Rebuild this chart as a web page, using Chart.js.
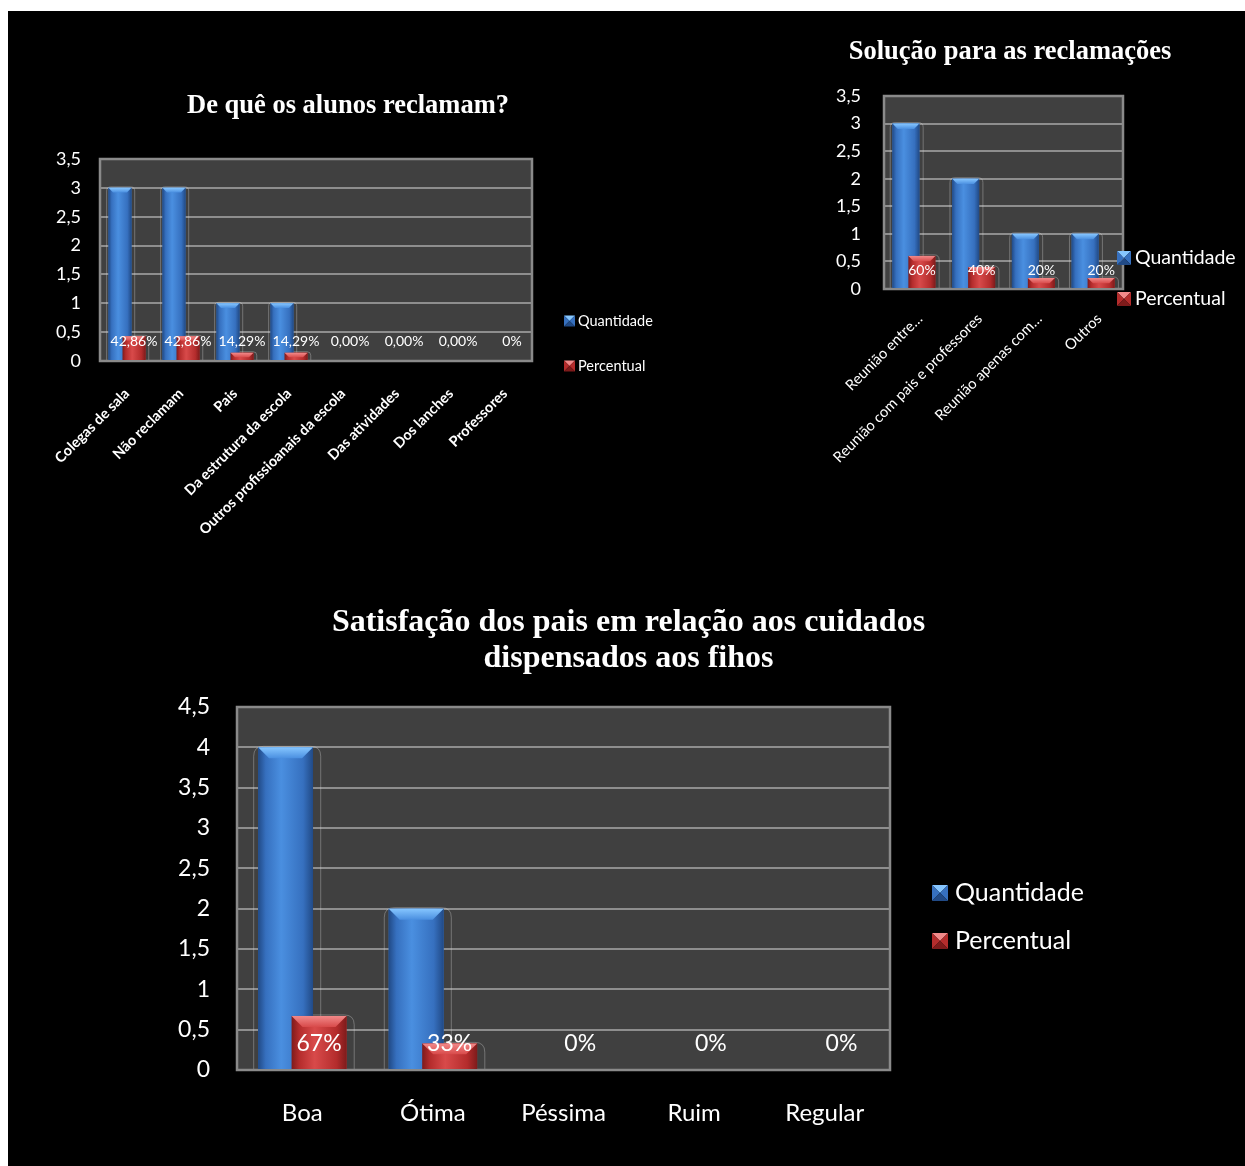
<!DOCTYPE html>
<html lang="pt-BR">
<head>
<meta charset="utf-8">
<title>Pesquisa com pais e alunos</title>
<script src="https://cdn.jsdelivr.net/npm/chart.js@4.4.1/dist/chart.umd.min.js"></script>
<style>
  html, body { margin: 0; padding: 0; background: #fff; }
  body { width: 1245px; height: 1166px; position: relative; overflow: hidden; }
  #fundo { position: absolute; left: 8px; top: 11px; width: 1237px; height: 1155px; background: #000; }
  canvas { position: absolute; }
  #graf-reclamam { left: 20px; top: 60px; }
  #graf-solucao { left: 775px; top: 20px; }
  #graf-satisfacao { left: 150px; top: 590px; }
</style>
</head>
<body>
<div id="fundo"></div>
<canvas id="graf-reclamam" width="656" height="500"></canvas>
<canvas id="graf-solucao" width="470" height="470"></canvas>
<canvas id="graf-satisfacao" width="957" height="576"></canvas>
<script>
// De quê os alunos reclamam?
const reclamamCategorias = ['Colegas de sala', 'Não reclamam', 'Pais', 'Da estrutura da escola',
  'Outros profissioanais da escola', 'Das atividades', 'Dos lanches', 'Professores'];
const reclamamQuantidade = [3, 3, 1, 1, 0, 0, 0, 0];
const reclamamPercentual = ['42,86%', '42,86%', '14,29%', '14,29%', '0,00%', '0,00%', '0,00%', '0%'];

// Solução para as reclamações
const solucaoCategorias = ['Reunião entre…', 'Reunião com pais e professores', 'Reunião apenas com…', 'Outros'];
const solucaoQuantidade = [3, 2, 1, 1];
const solucaoPercentual = ['60%', '40%', '20%', '20%'];

// Satisfação dos pais
const satisfacaoCategorias = ['Boa', 'Ótima', 'Péssima', 'Ruim', 'Regular'];
const satisfacaoQuantidade = [4, 2, 0, 0, 0];
const satisfacaoPercentual = ['67%', '33%', '0%', '0%', '0%'];

const FONTE = 'Lato, "Open Sans", sans-serif';
const FONTE_TITULO = '"Liberation Serif", "Times New Roman", serif';

const AZUL = { dark: '#214a86', mid: '#3670bf', light: '#4a8fe0', top: '#86c6ff', base: '#3a78c8' };
const VERMELHO = { dark: '#7e1b1b', mid: '#b42c2c', light: '#d84a4a', top: '#f28a8a', base: '#c23434' };
const CORES = [AZUL, VERMELHO];

function pct(s) {
  return parseFloat(s.replace('%', '').replace(',', '.')) / 100;
}
function virgula(v) {
  return String(v).replace('.', ',');
}

// plot background, frame and the faint 3D outlines behind each column
const areaPlot = {
  id: 'areaPlot',
  beforeDraw(chart) {
    const { ctx, chartArea: a } = chart;
    ctx.save();
    ctx.fillStyle = '#404040';
    ctx.fillRect(a.left, a.top, a.right - a.left, a.bottom - a.top);
    ctx.restore();
  },
  beforeDatasetsDraw(chart) {
    const { ctx, chartArea: a } = chart;
    ctx.save();
    ctx.strokeStyle = 'rgba(215,215,215,0.35)';
    ctx.lineWidth = 1;
    chart.data.datasets.forEach((ds, i) => {
      chart.getDatasetMeta(i).data.forEach(el => {
        const { x, y, base, width } = el.getProps(['x', 'y', 'base', 'width'], true);
        if (base - y < 0.5) return;
        const l = x - width / 2 - width * 0.08, r = x + width / 2 + width * 0.14;
        const rad = Math.min(width * 0.18, (base - y) / 2);
        ctx.beginPath();
        ctx.moveTo(l, base);
        ctx.lineTo(l, y - 1 + rad);
        ctx.quadraticCurveTo(l, y - 1, l + rad, y - 1);
        ctx.lineTo(r - rad, y - 1);
        ctx.quadraticCurveTo(r, y - 1, r, y - 1 + rad);
        ctx.lineTo(r, base);
        ctx.stroke();
      });
    });
    ctx.strokeStyle = '#8a8a8a';
    ctx.lineWidth = 2.5;
    ctx.strokeRect(a.left, a.top, a.right - a.left, a.bottom - a.top);
    ctx.restore();
  }
};

// shaded columns with a bevelled top
function pintaBarra(ctx, x, y, base, w, cor) {
  const l = x - w / 2, r = x + w / 2, h = base - y;
  const g = ctx.createLinearGradient(l, 0, r, 0);
  g.addColorStop(0, cor.dark);
  g.addColorStop(0.14, cor.mid);
  g.addColorStop(0.42, cor.light);
  g.addColorStop(0.82, cor.mid);
  g.addColorStop(1, cor.dark);
  ctx.fillStyle = g;
  ctx.fillRect(l, y, w, h);
  const b = Math.min(w * 0.2, h);
  const gt = ctx.createLinearGradient(0, y, 0, y + b);
  gt.addColorStop(0, cor.top);
  gt.addColorStop(1, cor.light);
  ctx.fillStyle = gt;
  ctx.beginPath();
  ctx.moveTo(l, y);
  ctx.lineTo(r, y);
  ctx.lineTo(r - b, y + b);
  ctx.lineTo(l + b, y + b);
  ctx.closePath();
  ctx.fill();
}

// repaint the columns series by series so Percentual sits in front of Quantidade
const barrasBisel = {
  id: 'barrasBisel',
  afterDatasetsDraw(chart) {
    const ctx = chart.ctx;
    ctx.save();
    chart.data.datasets.forEach((ds, i) => {
      chart.getDatasetMeta(i).data.forEach(el => {
        const { x, y, base, width } = el.getProps(['x', 'y', 'base', 'width'], true);
        if (base - y < 0.5) return;
        pintaBarra(ctx, x, y, base, width, CORES[i]);
      });
    });
    ctx.restore();
  }
};

// percentage labels sitting over the Percentual columns
const rotulosPct = {
  id: 'rotulosPct',
  afterDatasetsDraw(chart, args, opts) {
    const ctx = chart.ctx;
    const meta = chart.getDatasetMeta(1);
    const y0 = chart.scales.y.getPixelForValue(0) - opts.offset;
    ctx.save();
    ctx.fillStyle = '#fff';
    ctx.font = opts.size + 'px ' + FONTE;
    ctx.textAlign = 'center';
    ctx.textBaseline = 'middle';
    opts.textos.forEach((t, i) => ctx.fillText(t, meta.data[i].x, y0));
    ctx.restore();
  }
};

function marcador(ctx, x, y, s, cor) {
  const c = s / 2;
  const tri = (pts, fill) => {
    ctx.fillStyle = fill;
    ctx.beginPath();
    ctx.moveTo(pts[0], pts[1]);
    ctx.lineTo(pts[2], pts[3]);
    ctx.lineTo(pts[4], pts[5]);
    ctx.closePath();
    ctx.fill();
  };
  tri([x, y, x + s, y, x + c, y + c], cor.top);
  tri([x, y, x + c, y + c, x, y + s], cor.mid);
  tri([x + s, y, x + s, y + s, x + c, y + c], cor.mid);
  tri([x, y + s, x + s, y + s, x + c, y + c], cor.dark);
}

// legend drawn at a fixed spot beside the plot
const legendaLateral = {
  id: 'legendaLateral',
  afterDraw(chart, args, opts) {
    const ctx = chart.ctx;
    ctx.save();
    ctx.font = opts.size + 'px ' + FONTE;
    ctx.textBaseline = 'middle';
    chart.data.datasets.forEach((ds, i) => {
      const yc = opts.y + i * opts.gap;
      marcador(ctx, opts.x, yc - opts.box / 2, opts.box, CORES[i]);
      ctx.fillStyle = '#fff';
      ctx.fillText(ds.label, opts.x + opts.box + opts.space, yc);
    });
    ctx.restore();
  }
};

function criaGrafico(id, cfg) {
  const canvas = document.getElementById(id);
  return new Chart(canvas.getContext('2d'), {
    type: 'bar',
    data: {
      labels: cfg.categorias,
      datasets: [
        {
          label: 'Quantidade',
          data: cfg.quantidade,
          backgroundColor: AZUL.base,
          categoryPercentage: cfg.catPct,
          barPercentage: cfg.barPct
        },
        {
          label: 'Percentual',
          data: cfg.percentual.map(pct),
          backgroundColor: VERMELHO.base,
          categoryPercentage: cfg.catPct,
          barPercentage: cfg.barPct
        }
      ]
    },
    options: {
      responsive: false,
      animation: false,
      devicePixelRatio: 1,
      plugins: {
        legend: { display: false },
        tooltip: { enabled: false },
        title: {
          display: true,
          text: cfg.titulo,
          color: '#fff',
          font: { family: FONTE_TITULO, size: cfg.tituloTam, weight: 'bold', lineHeight: cfg.tituloLinha },
          padding: cfg.tituloPad
        },
        rotulosPct: { textos: cfg.percentual, size: cfg.rotuloTam, offset: cfg.rotuloOffset },
        legendaLateral: cfg.legenda
      },
      scales: {
        x: {
          grid: { display: false, drawTicks: false },
          border: { display: false },
          ticks: {
            color: '#fff',
            font: { family: FONTE, size: cfg.xTam, weight: cfg.xPeso },
            minRotation: cfg.rotacao,
            maxRotation: cfg.rotacao,
            autoSkip: false,
            padding: cfg.xPad,
            labelOffset: cfg.xDesloc
          },
          afterFit: s => { s.height = cfg.xAltura; }
        },
        y: {
          min: 0,
          max: cfg.yMax,
          grid: { color: '#8e8e8e', lineWidth: 2, drawTicks: false },
          border: { display: false },
          ticks: {
            stepSize: 0.5,
            color: '#fff',
            font: { family: FONTE, size: cfg.yTam },
            padding: cfg.yPad,
            callback: v => virgula(v)
          },
          afterFit: s => { s.width = cfg.yLargura; }
        },
        // empty axis on the right that reserves room for the legend
        lateral: {
          type: 'linear',
          position: 'right',
          grid: { display: false, drawTicks: false },
          border: { display: false },
          ticks: { display: false },
          afterFit: s => { s.width = cfg.padDireita; }
        }
      }
    },
    plugins: [areaPlot, barrasBisel, rotulosPct, legendaLateral]
  });
}

criaGrafico('graf-reclamam', {
  categorias: reclamamCategorias,
  quantidade: reclamamQuantidade,
  percentual: reclamamPercentual,
  titulo: 'De quê os alunos reclamam?',
  tituloTam: 26.5,
  tituloLinha: 1.2,
  tituloPad: { top: 30, bottom: 37.2 },
  catPct: 0.52,
  barPct: 1.64,
  padDireita: 144,
  yLargura: 80,
  yMax: 3.5,
  yTam: 18,
  yPad: 19,
  xAltura: 199,
  xTam: 14.5,
  xPeso: 'bold',
  rotacao: 45,
  xPad: 24,
  xDesloc: 0,
  rotuloTam: 14,
  rotuloOffset: 19.5,
  legenda: { x: 544, y: 261, gap: 45, box: 11, space: 3, size: 14.5 }
});

criaGrafico('graf-solucao', {
  categorias: solucaoCategorias,
  quantidade: solucaoQuantidade,
  percentual: solucaoPercentual,
  titulo: 'Solução para as reclamações',
  tituloTam: 26.5,
  tituloLinha: 1.2,
  tituloPad: { top: 16.1, bottom: 28.1 },
  catPct: 0.535,
  barPct: 1.69,
  padDireita: 122,
  yLargura: 109,
  yMax: 3.5,
  yTam: 18,
  yPad: 23,
  xAltura: 201,
  xTam: 14.8,
  xPeso: 'normal',
  rotacao: 45,
  xPad: 21,
  xDesloc: 6,
  rotuloTam: 14,
  rotuloOffset: 19,
  legenda: { x: 342, y: 238, gap: 41, box: 14, space: 4, size: 19.5 }
});

criaGrafico('graf-satisfacao', {
  categorias: satisfacaoCategorias,
  quantidade: satisfacaoQuantidade,
  percentual: satisfacaoPercentual,
  titulo: ['Satisfação dos pais em relação aos cuidados', 'dispensados aos fihos'],
  tituloTam: 32,
  tituloLinha: 1.125,
  tituloPad: { top: 15, bottom: 30 },
  catPct: 0.513,
  barPct: 1.64,
  padDireita: 217,
  yLargura: 87,
  yMax: 4.5,
  yTam: 23,
  yPad: 27,
  xAltura: 96,
  xTam: 24,
  xPeso: 'normal',
  rotacao: 0,
  xPad: 29,
  xDesloc: 0,
  rotuloTam: 23,
  rotuloOffset: 26,
  legenda: { x: 782, y: 303, gap: 48, box: 16, space: 7, size: 25 }
});
</script>
</body>
</html>
